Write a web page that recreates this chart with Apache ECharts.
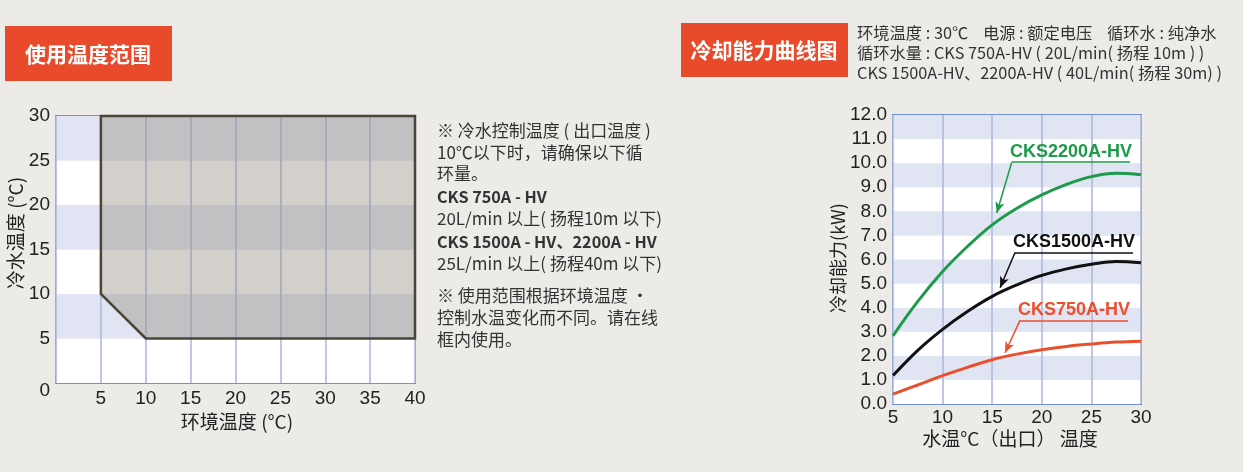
<!DOCTYPE html>
<html><head><meta charset="utf-8">
<script src="https://cdn.jsdelivr.net/npm/echarts@6/dist/echarts.min.js"></script>
<style>html,body{margin:0;padding:0;background:#ecebe7;}#c{width:1243px;height:472px;}</style>
</head><body><div id="c"></div>
<script>
// Left chart: usable range polygon (ambient temp vs cold water temp)
const rangeX = [5, 40, 40, 10, 5];
const rangeY = [30, 30, 5, 5, 10];
const leftXTicks = [0, 5, 10, 15, 20, 25, 30, 35, 40];
const leftYTicks = [0, 5, 10, 15, 20, 25, 30];
// Right chart: cooling capacity curves
const waterTemp = [5, 7.5, 10, 12.5, 15, 17.5, 20, 22.5, 25, 27.5, 30];
const cks2200 = [2.83, 4.26, 5.5, 6.54, 7.44, 8.13, 8.68, 9.12, 9.44, 9.58, 9.52];
const cks1500 = [1.18, 2.23, 3.1, 3.84, 4.47, 4.95, 5.34, 5.61, 5.8, 5.92, 5.87];
const cks750 = [0.41, 0.79, 1.18, 1.52, 1.84, 2.07, 2.25, 2.39, 2.49, 2.57, 2.61];
const seriesNames = ['CKS2200A-HV', 'CKS1500A-HV', 'CKS750A-HV'];

const CJK = '"Noto Sans CJK SC", sans-serif';
const LAT = '"Liberation Sans", Arial, sans-serif';
const RED = '#e84a2b', GREEN = '#1d9a4a', BLACK = '#111111', LRED = '#e8502e';
const tickStyle = {color: '#222', fontFamily: LAT, fontSize: 19};

function pair(xs, ys) { return xs.map((x, i) => [x, ys[i]]); }

function annot(color, text, lx1, lx2, ly, ax, ay) {
  return {
    silent: true, animation: false,
    symbol: ['none', 'none'],
    lineStyle: {color: color, width: 1.5, type: 'solid'},
    data: [
      [{coord: [lx1, ly], label: {show: true, position: 'insideMiddleTop', distance: 1, formatter: text,
         color: color, fontFamily: LAT, fontWeight: 'bold', fontSize: 18}},
       {coord: [lx2, ly]}],
      [{coord: [lx1, ly], symbol: 'none', label: {show: false}},
       {coord: [ax, ay], symbol: 'arrow', symbolSize: [7, 11]}]
    ]
  };
}

const chart = echarts.init(document.getElementById('c'));
const middleLines = [
  {t: '※ 冷水控制温度 ( 出口温度 )', y: 131, b: false},
  {t: '10℃以下时，请确保以下循', y: 153, b: false},
  {t: '环量。', y: 174, b: false},
  {t: 'CKS 750A - HV', y: 197, b: true},
  {t: '20L/min 以上( 扬程10m 以下)', y: 219, b: false},
  {t: 'CKS 1500A - HV、2200A - HV', y: 242, b: true},
  {t: '25L/min 以上( 扬程40m 以下)', y: 264, b: false},
  {t: '※ 使用范围根据环境温度 ·', y: 296, b: false},
  {t: '控制水温变化而不同。请在线', y: 318, b: false},
  {t: '框内使用。', y: 340, b: false}
];
const headerLines = [
  {t: '环境温度 : 30℃    电源 : 额定电压    循环水 : 纯净水', y: 33},
  {t: '循环水量 : CKS 750A-HV ( 20L/min( 扬程 10m ) )', y: 53},
  {t: 'CKS 1500A-HV、2200A-HV ( 40L/min( 扬程 30m) )', y: 73}
];
const graphics = [
  {type: 'rect', shape: {x: 5, y: 26, width: 167, height: 55}, style: {fill: RED}},
  {type: 'text', x: 88, y: 54, style: {text: '使用温度范围', fill: '#fff', font: 'bold 21px ' + CJK, textAlign: 'center', textVerticalAlign: 'middle'}},
  {type: 'rect', shape: {x: 681, y: 23, width: 167, height: 54}, style: {fill: RED}},
  {type: 'text', x: 764, y: 50, style: {text: '冷却能力曲线图', fill: '#fff', font: 'bold 21px ' + CJK, textAlign: 'center', textVerticalAlign: 'middle'}},
  {type: 'text', x: 237, y: 422, style: {text: '环境温度 (°C)', fill: '#222', font: '19px ' + CJK, textAlign: 'center', textVerticalAlign: 'middle'}},
  {type: 'text', x: 16, y: 233, rotation: Math.PI / 2, style: {text: '冷水温度 (°C)', fill: '#222', font: '19px ' + CJK, textAlign: 'center', textVerticalAlign: 'middle'}},
  {type: 'text', x: 1010, y: 439, style: {text: '水温°C（出口） 温度', fill: '#222', font: '19px ' + CJK, textAlign: 'center', textVerticalAlign: 'middle'}},
  {type: 'text', x: 838, y: 258, rotation: Math.PI / 2, style: {text: '冷却能力(kW)', fill: '#222', font: '18px ' + CJK, textAlign: 'center', textVerticalAlign: 'middle'}}
];
middleLines.forEach(l => graphics.push({type: 'text', x: 437, y: l.y, style: {text: l.t, fill: '#333',
  font: (l.b ? 'bold 16.2px ' : '17px ') + CJK, textAlign: 'left', textVerticalAlign: 'middle'}}));
headerLines.forEach(l => graphics.push({type: 'text', x: 857, y: l.y, style: {text: l.t, fill: '#333',
  font: '16.3px ' + CJK, textAlign: 'left', textVerticalAlign: 'middle'}}));

chart.setOption({
  backgroundColor: '#ecebe7',
  animation: false,
  grid: [
    {left: 56, top: 116, width: 359, height: 267, show: true, borderColor: '#7092d3', borderWidth: 2, backgroundColor: 'transparent'},
    {left: 893, top: 115, width: 248, height: 289, show: true, borderColor: '#7092d3', borderWidth: 2, backgroundColor: 'transparent'}
  ],
  xAxis: [
    {gridIndex: 0, type: 'value', min: leftXTicks[0], max: leftXTicks[leftXTicks.length - 1], interval: 5,
     axisLine: {show: false}, axisTick: {show: false},
     axisLabel: Object.assign({margin: 6, formatter: v => v === 0 ? '' : String(v)}, tickStyle),
     splitLine: {show: true, lineStyle: {color: '#a9b6de', width: 1.5}}},
    {gridIndex: 1, type: 'value', min: 5, max: 30, interval: 5,
     axisLine: {show: false}, axisTick: {show: false},
     axisLabel: Object.assign({margin: 4}, tickStyle),
     splitLine: {show: true, lineStyle: {color: '#a9b6de', width: 1.5}}}
  ],
  yAxis: [
    {gridIndex: 0, type: 'value', min: leftYTicks[0], max: leftYTicks[leftYTicks.length - 1], interval: 5,
     axisLine: {show: false}, axisTick: {show: false},
     axisLabel: Object.assign({margin: 6, formatter: v => v === 0 ? '{z|0}' : String(v),
       rich: {z: {color: '#222', fontFamily: LAT, fontSize: 19, padding: [16, 0, 0, 0]}}}, tickStyle),
     splitLine: {show: false},
     splitArea: {show: true, areaStyle: {color: ['#ffffff', '#e1e4f2']}}},
    {gridIndex: 1, type: 'value', min: 0, max: 12, interval: 1,
     axisLine: {show: false}, axisTick: {show: false},
     axisLabel: Object.assign({margin: 6, formatter: v => v.toFixed(1)}, tickStyle),
     splitLine: {show: false},
     splitArea: {show: true, areaStyle: {color: ['#ffffff', '#e1e4f2']}}}
  ],
  series: [
    {type: 'custom', xAxisIndex: 0, yAxisIndex: 0, data: [[rangeX[0], rangeY[0]]],
     renderItem: function (params, api) {
       return {type: 'polygon', shape: {points: rangeX.map((x, i) => api.coord([x, rangeY[i]]))},
         style: {fill: 'rgba(145,138,126,0.4)', stroke: '#4b4538', lineWidth: 2.5, lineJoin: 'miter'}};
     }},
    {name: seriesNames[0], type: 'line', xAxisIndex: 1, yAxisIndex: 1, data: pair(waterTemp, cks2200),
     smooth: 0.4, showSymbol: false, lineStyle: {color: GREEN, width: 3}, itemStyle: {color: GREEN},
     markLine: annot(GREEN, seriesNames[0], 16.97, 28.9, 10.04, 15.46, 7.93)},
    {name: seriesNames[1], type: 'line', xAxisIndex: 1, yAxisIndex: 1, data: pair(waterTemp, cks1500),
     smooth: 0.4, showSymbol: false, lineStyle: {color: BLACK, width: 3}, itemStyle: {color: BLACK},
     markLine: annot(BLACK, seriesNames[1], 17.3, 29.2, 6.29, 15.8, 4.83)},
    {name: seriesNames[2], type: 'line', xAxisIndex: 1, yAxisIndex: 1, data: pair(waterTemp, cks750),
     smooth: 0.4, showSymbol: false, lineStyle: {color: LRED, width: 3}, itemStyle: {color: LRED},
     markLine: annot(LRED, seriesNames[2], 17.8, 28.7, 3.47, 16.3, 2.13)}
  ],
  graphic: graphics
});
</script>
</body></html>
